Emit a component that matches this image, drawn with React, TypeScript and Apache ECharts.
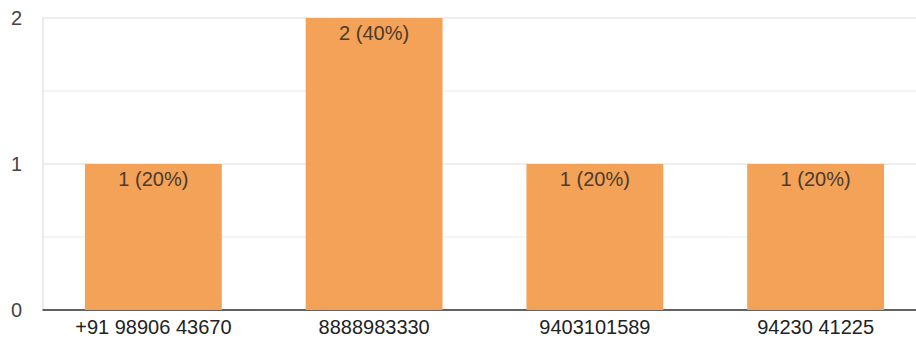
import React, { useEffect, useRef } from "react";
import * as echarts from "echarts";

const categories = ["+91 98906 43670", "8888983330", "9403101589", "94230 41225"];
const counts = [1, 2, 1, 1];
const percents = ["20%", "40%", "20%", "20%"];

export default function App() {
  const ref = useRef<HTMLDivElement>(null);
  useEffect(() => {
    if (!ref.current) return;
    const chart = echarts.init(ref.current, null, { renderer: "svg" });
    const font = "'Liberation Sans', Arial, sans-serif";
    chart.setOption({
      animation: false,
      grid: { left: 43, right: 0, top: 18, bottom: 34, containLabel: false },
      xAxis: {
        type: "category",
        data: categories,
        axisLine: { show: true, lineStyle: { color: "#333", width: 1.5 } },
        axisTick: { show: false },
        axisLabel: { color: "#222", fontSize: 20, fontFamily: font, margin: 7, interval: 0 },
      },
      yAxis: {
        type: "value",
        min: 0,
        max: 2,
        interval: 1,
        axisLine: { show: true, lineStyle: { color: "#e6e6e6", width: 1.5 } },
        axisTick: { show: false },
        axisLabel: { color: "#444", fontSize: 20, fontFamily: font, margin: 21 },
        splitLine: { show: true, lineStyle: { color: "#e8e8e8", width: 1.5 } },
        minorTick: { show: false, splitNumber: 2 },
        minorSplitLine: { show: true, lineStyle: { color: "#f2f2f2", width: 1.5 } },
      },
      series: [
        {
          type: "bar",
          data: counts,
          barWidth: "62%",
          itemStyle: { color: "#F3A257" },
          label: {
            show: true,
            position: "insideTop",
            distance: 5,
            color: "#4a3b2e",
            fontSize: 20,
            fontFamily: font,
            formatter: (p: any) => `${counts[p.dataIndex]} (${percents[p.dataIndex]})`,
          },
        },
      ],
    });
    return () => chart.dispose();
  }, []);
  return (
    <div style={{ width: 916, height: 344, position: "absolute", left: 0, top: 0, overflow: "hidden" }}>
      <div ref={ref} style={{ width: 926, height: 344 }} />
    </div>
  );
}
